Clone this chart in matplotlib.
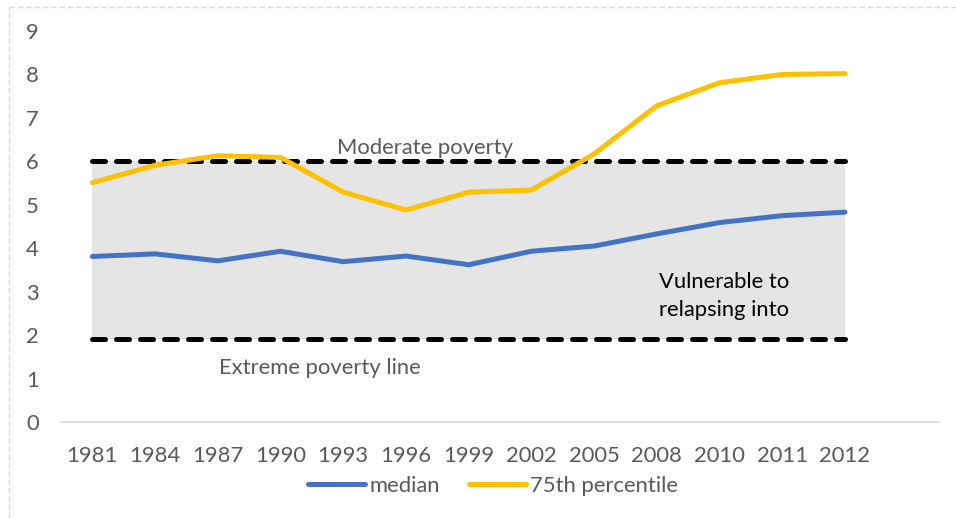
import matplotlib
matplotlib.use("Agg")
import matplotlib.pyplot as plt
from matplotlib.lines import Line2D

years = ["1981", "1984", "1987", "1990", "1993", "1996", "1999", "2002",
         "2005", "2008", "2010", "2011", "2012"]
median = [3.81, 3.87, 3.71, 3.93, 3.69, 3.82, 3.62, 3.93, 4.05, 4.33, 4.59, 4.75, 4.83]
p75 = [5.51, 5.91, 6.13, 6.09, 5.29, 4.88, 5.29, 5.34, 6.17, 7.28, 7.81, 8.00, 8.02]
moderate_line = 6.0
extreme_line = 1.9
yticks = list(range(0, 10))

plt.rcParams['font.family'] = ['Lato', 'DejaVu Sans']
FS = 15.8
W, H = 956, 518
fig = plt.figure(figsize=(W / 100, H / 100), dpi=100)
ax = fig.add_axes([61 / W, 1 - 422 / H, (939 - 61) / W, (422 - 31) / H])

x = list(range(len(years)))
ax.fill_between(x, [extreme_line] * len(x), [moderate_line] * len(x),
                color='#e5e5e5', lw=0, zorder=1)
for yv in (moderate_line, extreme_line):
    ax.plot([x[0], x[-1]], [yv, yv], color='black', lw=3.6,
            dashes=(2.6, 2.2), dash_capstyle='round', zorder=2)

l1, = ax.plot(x, median, color='#4472C4', lw=3.6, solid_capstyle='round',
              solid_joinstyle='round', zorder=3, label='median')
l2, = ax.plot(x, p75, color='#FFC000', lw=3.6, solid_capstyle='round',
              solid_joinstyle='round', zorder=3, label='75th percentile')

ax.set_xlim(-0.5, len(years) + 0.5)
ax.set_ylim(0, 9)
ax.set_xticks(x)
ax.set_xticklabels(years)
ax.set_yticks(yticks)
ax.tick_params(axis='both', length=0, labelsize=FS, colors='#595959')
ax.tick_params(axis='x', pad=17)
ax.tick_params(axis='y', pad=16)
for s in ('top', 'right', 'left'):
    ax.spines[s].set_visible(False)
ax.spines['bottom'].set_color('#d9d9d9')
ax.spines['bottom'].set_linewidth(1.2)

ax.text(5.31, 6.31, "Moderate poverty", ha='center', va='center',
        fontsize=FS, color='#595959')
ax.text(3.62, 1.24, "Extreme poverty line", ha='center', va='center',
        fontsize=FS, color='#595959')
ax.text(10.07, 2.9, "Vulnerable to\nrelapsing into", ha='center', va='center',
        fontsize=FS, color='black', linespacing=1.45)

fig.legend(handles=[l1, l2], loc='center', bbox_to_anchor=(0.516, 1 - 486 / H),
           ncol=2, frameon=False, fontsize=FS, handlelength=2.6,
           handletextpad=0.2, columnspacing=1.3, labelcolor='#595959')

# chart border (dashed, light grey) on left and top
fig.add_artist(Line2D([9 / W, 9 / W], [0, 1 - 7 / H], transform=fig.transFigure,
                      color='#d9d9d9', lw=1, dashes=(4, 2)))
fig.add_artist(Line2D([9 / W, 1], [1 - 7 / H, 1 - 7 / H], transform=fig.transFigure,
                      color='#d9d9d9', lw=1, dashes=(4, 2)))

fig.savefig("out.png", dpi=100)
